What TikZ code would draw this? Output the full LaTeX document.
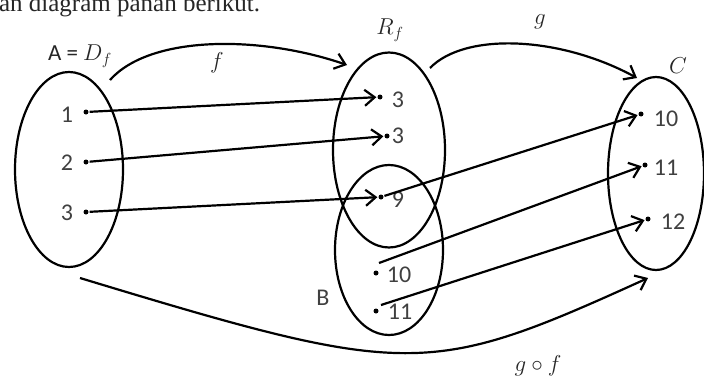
\RequirePackage{fix-cm}
\documentclass[tikz,border=0pt]{standalone}
\usepackage{fontspec}
\setmainfont{Liberation Serif}
\newfontfamily\numfont{Carlito}
\usetikzlibrary{shapes.geometric,arrows.meta}
\begin{document}
\begin{tikzpicture}[x=1pt,y=-1pt,line width=2.2pt,
  setel/.style={draw,ellipse,inner sep=0pt,line width=2.2pt},
  num/.style={font=\numfont\fontsize{24}{28}\selectfont,inner sep=0pt,text=black!75},
  lbl/.style={font=\fontsize{23}{27}\selectfont,inner sep=0pt,text=black!85},
  map/.style={-{Straight Barb[length=10pt,width=16pt,line width=2.2pt]},line width=2.2pt},
  pt/.style={circle,fill,inner sep=0pt,minimum size=5pt}]
\useasboundingbox (0,0) rectangle (704,380);
\node[anchor=base west,font=\fontsize{25}{30}\selectfont,inner sep=0pt,text=black!85] (title) at (-2,12) {an diagram panah berikut.};
% sets
\node[setel,minimum width=108pt,minimum height=195pt] (A) at (69,169.5) {};
\node[setel,minimum width=112pt,minimum height=195pt] (R) at (389,150) {};
\node[setel,minimum width=108pt,minimum height=170pt] (B) at (389,250) {};
\node[setel,minimum width=96pt,minimum height=193pt] (C) at (656,173.5) {};
% set labels
\node[lbl] (lA) at (80,56) {{\numfont A = }$D_f$};
\node[lbl] (lR) at (390,30) {$R_f$};
\node[lbl] (lC) at (678,66) {$C$};
\node[num] (lB) at (323,298) {B};
% elements of A
\node[num] (a1t) at (67,115) {1};
\node[num] (a2t) at (67,163) {2};
\node[num] (a3t) at (67,213) {3};
\node[pt] (a1) at (86,112) {};
\node[pt] (a2) at (86,162) {};
\node[pt] (a3) at (86,212) {};
% elements of R_f and B
\node[num] (r1t) at (398,100) {3};
\node[num] (r2t) at (398,136) {3};
\node[num] (r3t) at (398,200) {9};
\node[num] (b1t) at (399,275) {10};
\node[num] (b2t) at (400,312) {11};
\node[pt] (r1) at (380,97) {};
\node[pt] (r2) at (387,136) {};
\node[pt] (r3) at (381,197) {};
\node[pt] (b1) at (376,273) {};
\node[pt] (b2) at (376,311) {};
\coordinate (b1s) at (379,263);
\coordinate (b2s) at (381,305);
% elements of C
\node[num] (c1t) at (666,119) {10};
\node[num] (c2t) at (666,168) {11};
\node[num] (c3t) at (673,222) {12};
\node[pt] (c1) at (641,114) {};
\node[pt] (c2) at (645,165) {};
\node[pt] (c3) at (648,219) {};
% element arrows
\draw[map] (a1) -- (r1);
\draw[map] (a2) -- (r2);
\draw[map] (a3) -- (r3);
\draw[map] (r3) -- (c1);
\draw[map] (b1s) -- (c2);
\draw[map] (b2s) -- (c3);
% function arrows
\coordinate (fs) at (110,80);
\coordinate (fe) at (347,65);
\coordinate (gs) at (430,68);
\coordinate (ge) at (637,78);
\coordinate (hs) at (80,278);
\coordinate (he) at (648,278);
\draw[map] (fs) .. controls (150,35) and (260,35) .. (fe);
\draw[map] (gs) .. controls (465,32) and (560,36) .. (ge);
\draw[map] (hs) .. controls (410,378) and (428,378) .. (he);
\node[lbl] (lf) at (217,63) {$f$};
\node[lbl] (lg) at (540,22) {$g$};
\node[lbl] (lgf) at (538,366) {$g\circ f$};
\end{tikzpicture}
\end{document}
